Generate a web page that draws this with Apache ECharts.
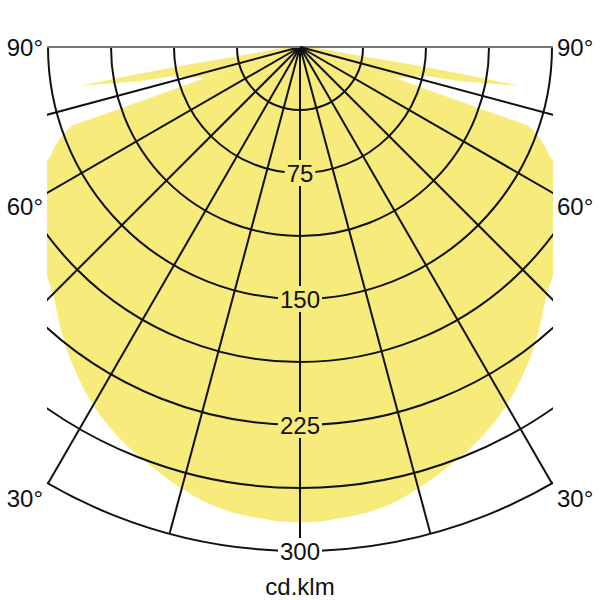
<!DOCTYPE html>
<html>
<head>
<meta charset="utf-8">
<script src="https://cdn.jsdelivr.net/npm/echarts@6/dist/echarts.min.js"></script>
<style>
html, body { margin: 0; padding: 0; background: #fff; }
#chart { width: 600px; height: 600px; }
</style>
</head>
<body>
<div id="chart"></div>
<script>
// gamma angles (deg from downward vertical), read on one half; the curve is symmetric
// main lobe
const bodyAngles = [0, 5, 10, 15, 20, 25, 30, 35, 40, 45, 50, 55, 60, 65, 66.3, 68, 70, 71];
const bodyIntensity = [283, 281.5, 278.5, 272, 264, 256, 246, 234, 221, 208, 200, 192, 183, 168, 162.5, 157, 149, 143];
// narrow side spike near the horizontal
const spikeAngles = [71, 72, 74.5, 77, 77.5, 78, 80, 80.5, 81, 81.5, 82, 84, 86, 88, 90];
const spikeIntensity = [143, 59.5, 68, 77, 86, 98, 133, 101, 68, 45, 30, 18, 11, 5, 0];

const ringValues = [75, 150, 225, 300];
const ringTicks = ['75', '150', '225', '300'];
const degreeLabels = ['90°', '60°', '30°'];
const unitLabel = 'cd.klm';

const FONT = '"Liberation Sans", Arial, sans-serif';
const YELLOW = '#f7eb7b';
const INK = '#111';

// polar data is [radius, angle]; right half gets negative angles
let bodyData = [];
for (let i = bodyAngles.length - 1; i > 0; i--) bodyData.push([bodyIntensity[i], -bodyAngles[i]]);
for (let i = 0; i < bodyAngles.length; i++) bodyData.push([bodyIntensity[i], bodyAngles[i]]);

let spikeData = [];
for (let i = spikeAngles.length - 1; i >= 0; i--) spikeData.push([spikeIntensity[i], -spikeAngles[i]]);
spikeData.push('-');
for (let i = 0; i < spikeAngles.length; i++) spikeData.push([spikeIntensity[i], spikeAngles[i]]);

// 13 rays from -90 to 90, the horizontal ones are lighter
let rayColors = [];
for (let i = 0; i < 13; i++) rayColors.push(i === 0 || i === 12 ? '#777' : INK);

let chart = echarts.init(document.getElementById('chart'), null, {renderer: 'svg'});

let labelYs = [47, 206, 498];
let graphic = [
    {type: 'rect', shape: {x: 0, y: 0, width: 47, height: 600}, style: {fill: '#fff'}, z: 50, silent: true},
    {type: 'rect', shape: {x: 553, y: 0, width: 47, height: 600}, style: {fill: '#fff'}, z: 50, silent: true}
];
degreeLabels.forEach((t, i) => {
    graphic.push({type: 'text', x: 43, y: labelYs[i], z: 60,
        style: {text: t, fontSize: 24, fontFamily: FONT, fill: INK, align: 'right', verticalAlign: 'middle'}});
    graphic.push({type: 'text', x: 557, y: labelYs[i], z: 60,
        style: {text: t, fontSize: 24, fontFamily: FONT, fill: INK, align: 'left', verticalAlign: 'middle'}});
});
graphic.push({type: 'text', x: 300, y: 586, z: 60,
    style: {text: unitLabel, fontSize: 24, fontFamily: FONT, fill: INK, align: 'center', verticalAlign: 'middle'}});

let option = {
    animation: false,
    polar: {center: [300, 47], radius: 504},
    angleAxis: {
        type: 'value', min: -90, max: 90, interval: 15,
        startAngle: 0, endAngle: -180, clockwise: true, z: 5,
        axisLine: {show: false}, axisTick: {show: false}, axisLabel: {show: false},
        splitLine: {show: true, lineStyle: {color: rayColors, width: 2}}
    },
    radiusAxis: {
        type: 'value', min: 0, max: 300, interval: 37.5, z: 5,
        axisLine: {show: false}, axisTick: {show: false}, axisLabel: {show: false},
        splitLine: {show: true, lineStyle: {color: INK, width: 2}}
    },
    series: [
        {
            type: 'line', coordinateSystem: 'polar', data: bodyData,
            symbol: 'none', silent: true, z: 1, smooth: 0.4,
            lineStyle: {width: 0},
            areaStyle: {color: YELLOW, opacity: 1}
        },
        {
            type: 'line', coordinateSystem: 'polar', data: spikeData,
            symbol: 'none', silent: true, z: 1, connectNulls: false,
            lineStyle: {width: 0},
            areaStyle: {color: YELLOW, opacity: 1}
        },
        {
            type: 'scatter', coordinateSystem: 'polar', z: 10, silent: true,
            data: ringValues.map(v => ({value: [v, 0], label: {backgroundColor: v < 300 ? YELLOW : '#fff'}})),
            symbolSize: 1, itemStyle: {color: 'rgba(0,0,0,0)', opacity: 1},
            label: {
                show: true, position: 'inside', formatter: p => ringTicks[p.dataIndex],
                fontSize: 24, fontFamily: FONT, color: INK, opacity: 1, padding: [1, 2]
            }
        }
    ],
    graphic: graphic
};
chart.setOption(option);
</script>
</body>
</html>
